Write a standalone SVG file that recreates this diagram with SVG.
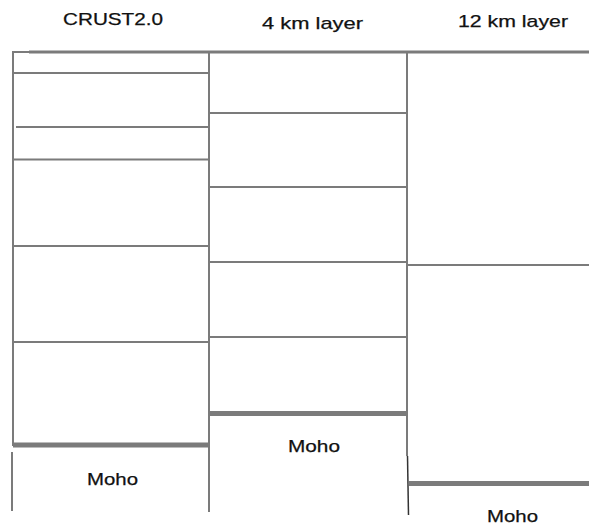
<svg xmlns="http://www.w3.org/2000/svg" width="589" height="526" viewBox="0 0 589 526">
<style>
.l{stroke:#7b7b7b;stroke-width:2;fill:none}
.t{stroke:#7b7b7b;stroke-width:3;fill:none}
.m{stroke:#7b7b7b;stroke-width:5;fill:none}
text{font-family:"Liberation Sans",Arial,sans-serif;font-size:17px;fill:#111;stroke:#111;stroke-width:0.25}
</style>
<rect width="589" height="526" fill="#fff"/>
<g id="connectors">
<line class="l" x1="13" y1="52" x2="29" y2="52"/>
<line class="t" x1="29" y1="52" x2="589" y2="52"/>
<line class="l" x1="13" y1="51" x2="13" y2="446"/>
<line class="l" x1="12" y1="452" x2="12" y2="511"/>
<line class="l" x1="209" y1="51" x2="209" y2="512"/>
<line class="l" x1="407" y1="51" x2="407" y2="456"/>
<line x1="407.5" y1="456" x2="408.5" y2="515" stroke="#333" stroke-width="1.5"/>
</g>
<g id="crust2">
<text x="63" y="25" textLength="100" lengthAdjust="spacingAndGlyphs">CRUST2.0</text>
<line class="l" x1="13" y1="73" x2="209" y2="73"/>
<line class="l" x1="16" y1="127" x2="209" y2="127"/>
<line class="l" x1="13" y1="159.5" x2="209" y2="159.5"/>
<line class="l" x1="13" y1="246" x2="209" y2="246"/>
<line class="l" x1="13" y1="342" x2="209" y2="342"/>
<line class="m" x1="13" y1="445" x2="209" y2="445"/>
<text x="87" y="485" textLength="51" lengthAdjust="spacingAndGlyphs">Moho</text>
</g>
<g id="layer4">
<text x="262" y="29" textLength="101" lengthAdjust="spacingAndGlyphs">4 km layer</text>
<line class="l" x1="209" y1="113" x2="406" y2="113"/>
<line class="l" x1="209" y1="187" x2="406" y2="187"/>
<line class="l" x1="209" y1="262" x2="406" y2="262"/>
<line class="l" x1="209" y1="337" x2="406" y2="337"/>
<line class="m" x1="209" y1="413.5" x2="407" y2="413.5"/>
<text x="288" y="452" textLength="52" lengthAdjust="spacingAndGlyphs">Moho</text>
</g>
<g id="layer12">
<text x="458" y="27" textLength="110" lengthAdjust="spacingAndGlyphs">12 km layer</text>
<line class="l" x1="407" y1="265" x2="589" y2="265"/>
<line class="m" x1="409" y1="483.5" x2="589" y2="483.5"/>
<text x="487" y="522" font-size="16" textLength="51" lengthAdjust="spacingAndGlyphs">Moho</text>
</g>
</svg>
